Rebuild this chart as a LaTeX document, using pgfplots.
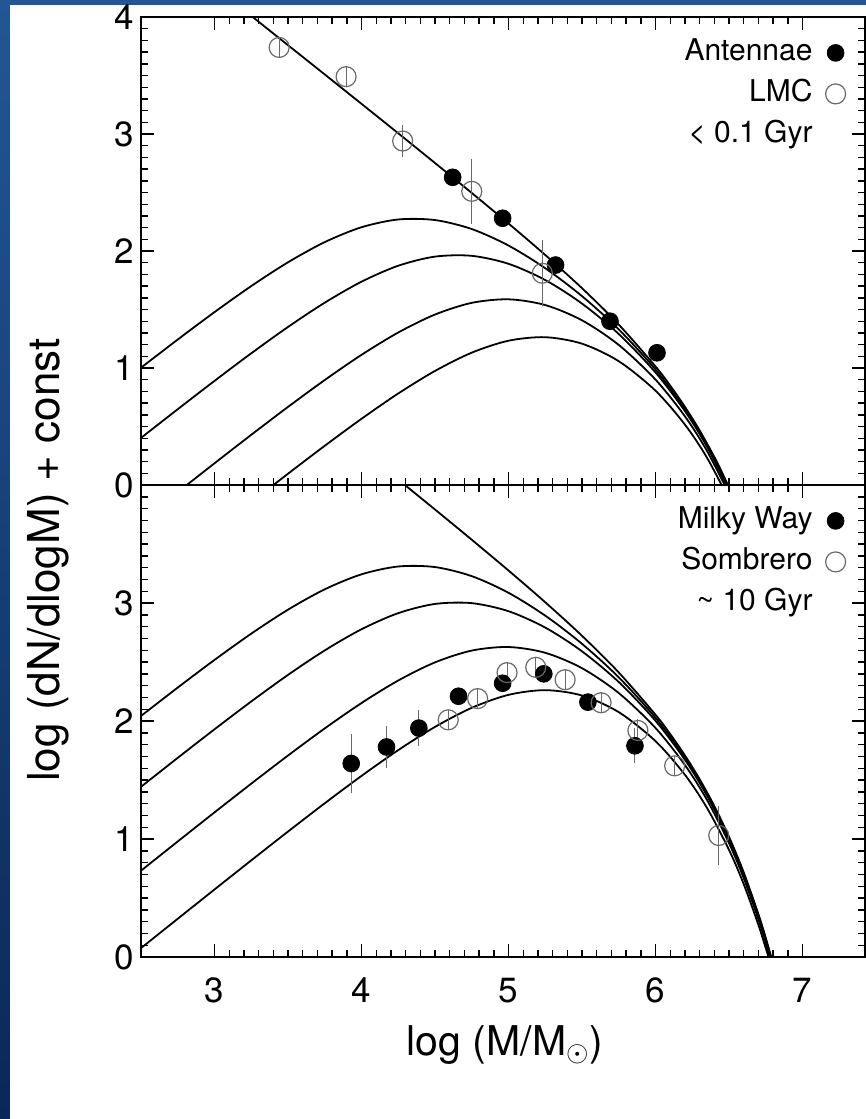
\documentclass[border=0pt]{standalone}
\usepackage{fontspec}
\setmainfont{TeX Gyre Heros}
\usepackage{pgfplots}
\pgfplotsset{compat=1.18}

\definecolor{slideblueA}{RGB}{36,86,148}
\definecolor{slideblueB}{RGB}{10,40,86}
\definecolor{opengray}{RGB}{105,105,105}

\pgfplotsset{
  panel/.style={
    scale only axis, width=362pt,
    xmin=2.5, xmax=7.425, ymin=0, ymax=4,
    xtick={3,4,5,6,7}, minor x tick num=9,
    ytick={0,1,2,3,4}, minor y tick num=9,
    tick align=inside, major tick length=6.5pt, minor tick length=3.5pt,
    axis line style={line width=1pt},
    every tick/.style={black, line width=0.7pt},
    tick label style={font=\fontsize{17.5}{20}\selectfont},
    /pgf/number format/assume math mode=true,
    xticklabel style={yshift=-7pt},
    legend style={draw=none, fill=none, at={(1,1)}, anchor=north east,
      xshift=-9.5pt, yshift=-7.5pt, inner sep=0pt, row sep=0pt,
      font=\fontsize{15}{18}\selectfont,
      nodes={inner sep=3pt, text height=11pt, text depth=3.5pt}},
    legend plot pos=right, legend cell align=right,
  },
  model/.style={black, line width=0.9pt, smooth, no markers, forget plot},
  filled/.style={only marks, mark=*, mark size=4.2pt, black,
    error bars/.cd, y dir=both, y explicit, error mark=none,
    error bar style={opengray, line width=0.5pt}},
  open/.style={only marks, mark=o, mark size=5pt, opengray,
    mark options={line width=0.6pt},
    error bars/.cd, y dir=both, y explicit, error mark=none,
    error bar style={opengray, line width=0.5pt}},
}

\begin{document}
\begin{tikzpicture}
\useasboundingbox (0,0) rectangle (433pt,-559.5pt);
\shade[top color=slideblueA, bottom color=slideblueB] (0,0) rectangle (433pt,-559.5pt);
\fill[white] (5pt,-2.5pt) rectangle (433pt,-559.5pt);

% ---------- young clusters ----------
\begin{axis}[panel, at={(70.5pt,-242.5pt)}, anchor=south west, height=234pt,
  xticklabels={}]
\addplot[model] coordinates {
 (3.25,4.010) (3.5,3.759) (3.75,3.509) (4.0,3.258) (4.25,3.006) (4.5,2.752)
 (4.75,2.496) (5.0,2.235) (5.25,1.966) (5.5,1.682) (5.75,1.371) (6.0,1.013)
 (6.1,0.849) (6.2,0.668) (6.3,0.467) (6.4,0.240) (6.45,0.114) (6.5,-0.021)};
\addplot[model] coordinates {
 (2.5,1.0025) (2.75,1.2435) (3.0,1.4777) (3.25,1.7003) (3.5,1.9036) (3.75,2.0761)
 (4.0,2.2032) (4.25,2.2695) (4.5,2.2646) (4.75,2.1877) (5.0,2.0466) (5.25,1.8527)
 (5.5,1.614) (5.75,1.3298) (6.0,0.9871) (6.2,0.65) (6.35,0.3422) (6.5,-0.0333)};
\addplot[model] coordinates {
 (2.5,0.4025) (2.75,0.6479) (3.0,0.8898) (3.25,1.1256) (3.5,1.3508) (3.75,1.5584)
 (4.0,1.7377) (4.25,1.8742) (4.5,1.9521) (4.75,1.9588) (5.0,1.8905) (5.25,1.7517)
 (5.5,1.5505) (5.75,1.2902) (6.0,0.9617) (6.2,0.6317) (6.35,0.3275) (6.5,-0.0454)};
\addplot[model] coordinates {
 (2.5,-0.3086) (2.75,-0.0607) (3.0,0.1856) (3.25,0.4291) (3.5,0.6675) (3.75,0.8973)
 (4.0,1.1125) (4.25,1.3035) (4.5,1.4571) (4.75,1.5569) (5.0,1.5871) (5.25,1.5381)
 (5.5,1.4076) (5.75,1.1969) (6.0,0.9006) (6.2,0.5871) (6.35,0.2915) (6.5,-0.0752)};
\addplot[model] coordinates {
 (3.25,-0.1474) (3.5,0.0963) (3.75,0.3352) (4.0,0.5658) (4.25,0.7822) (4.5,0.9751)
 (4.75,1.1312) (5.0,1.2332) (5.25,1.2633) (5.5,1.2077) (5.75,1.0581) (6.0,0.8057)
 (6.2,0.5163) (6.35,0.2336) (6.5,-0.1235)};
% Antennae
\addplot[filled] table[x index=0, y index=1, y error index=2] {
4.62 2.63 0
4.96 2.28 0
5.32 1.88 0
5.69 1.40 0
6.01 1.13 0
};
\addlegendentry{Antennae}
% LMC
\addplot[open] table[x index=0, y index=1, y error index=2] {
3.44  3.74 0.08
3.895 3.49 0.08
4.28  2.94 0.14
4.75  2.51 0.28
5.23  1.81 0.28
};
\addlegendentry{LMC}
\addlegendimage{empty legend}
\addlegendentry{< 0.1 Gyr}
\end{axis}

% ---------- old globular clusters ----------
\begin{axis}[panel, at={(70.5pt,-478.5pt)}, anchor=south west, height=236pt,
  yticklabels={0,1,2,3,{}}]
\addplot[model] coordinates {
 (4.25,4.0456) (4.5,3.7922) (4.75,3.5361) (5.0,3.2753) (5.25,3.0061) (5.5,2.7219)
 (5.75,2.4111) (6.0,2.053) (6.1,1.889) (6.2,1.7085) (6.3,1.5072) (6.4,1.2795)
 (6.5,1.0187) (6.6,0.7167) (6.7,0.362) (6.75,0.1611) (6.8,-0.0586)};
\addplot[model] coordinates {
 (2.5,2.0425) (2.75,2.2835) (3.0,2.5177) (3.25,2.7403) (3.5,2.9436) (3.75,3.1161)
 (4.0,3.2432) (4.25,3.3095) (4.5,3.3046) (4.75,3.2277) (5.0,3.0866) (5.25,2.8927)
 (5.5,2.654) (5.75,2.3698) (6.0,2.0271) (6.2,1.69) (6.35,1.3822) (6.5,1.0067)
 (6.6,0.7058) (6.7,0.3522) (6.75,0.1516) (6.8,-0.0675)};
\addplot[model] coordinates {
 (2.5,1.4425) (2.75,1.6879) (3.0,1.9298) (3.25,2.1656) (3.5,2.3908) (3.75,2.5984)
 (4.0,2.7777) (4.25,2.9142) (4.5,2.9921) (4.75,2.9988) (5.0,2.9305) (5.25,2.7917)
 (5.5,2.5905) (5.75,2.3302) (6.0,2.0017) (6.2,1.6717) (6.35,1.3675) (6.5,0.9946)
 (6.6,0.695) (6.7,0.3424) (6.75,0.1423) (6.8,-0.0764)};
\addplot[model] coordinates {
 (2.5,0.7314) (2.75,0.9793) (3.0,1.2256) (3.25,1.4691) (3.5,1.7075) (3.75,1.9373)
 (4.0,2.1525) (4.25,2.3435) (4.5,2.4971) (4.75,2.5969) (5.0,2.6271) (5.25,2.5781)
 (5.5,2.4476) (5.75,2.2369) (6.0,1.9406) (6.2,1.6271) (6.35,1.3315) (6.5,0.9648)
 (6.6,0.6682) (6.7,0.3182) (6.75,0.1191) (6.8,-0.0986)};
\addplot[model] coordinates {
 (2.5,0.0752) (2.75,0.3242) (3.0,0.5723) (3.25,0.819) (3.5,1.0632) (3.75,1.3029)
 (4.0,1.5349) (4.25,1.7536) (4.5,1.9502) (4.75,2.1119) (5.0,2.2218) (5.25,2.2615)
 (5.5,2.2158) (5.75,2.075) (6.0,1.8295) (6.2,1.544) (6.35,1.2635) (6.5,0.908)
 (6.6,0.6173) (6.7,0.272) (6.75,0.0748) (6.8,-0.1211)};
% Milky Way
\addplot[filled] table[x index=0, y index=1, y error index=2] {
3.93 1.64 0.25
4.17 1.78 0.18
4.39 1.94 0.15
4.66 2.21 0.05
4.96 2.32 0.05
5.24 2.40 0.05
5.54 2.16 0.05
5.86 1.79 0.15
};
\addlegendentry{Milky Way}
% Sombrero
\addplot[open] table[x index=0, y index=1, y error index=2] {
4.59  2.01  0.08
4.79  2.19  0.08
4.99  2.41  0.08
5.185 2.455 0.08
5.385 2.35  0.08
5.63  2.155 0.08
5.88  1.92  0.10
6.13  1.62  0.08
6.43  1.03  0.25
};
\addlegendentry{Sombrero}
\addlegendimage{empty legend}
\addlegendentry{\textasciitilde{} 10 Gyr}
\end{axis}

\node[rotate=90, font=\fontsize{22}{26}\selectfont] at (24pt,-280pt)
  {log (dN/dlogM) + const};
\node[font=\fontsize{20.5}{24}\selectfont] at (252.5pt,-522.5pt)
  {log (M/M$_\odot$)};
\end{tikzpicture}
\end{document}
